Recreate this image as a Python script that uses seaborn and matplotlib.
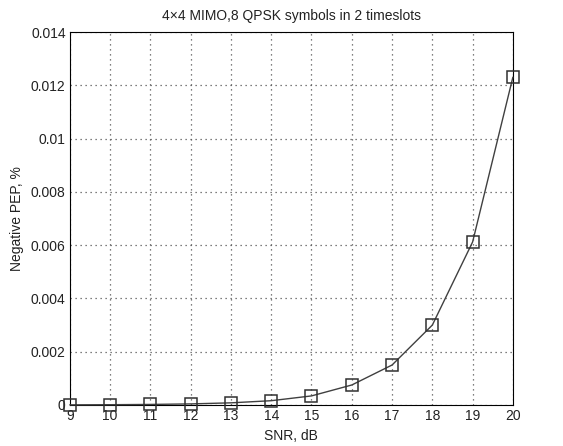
import seaborn as sns
import pandas as pd
import matplotlib
matplotlib.use('Agg')
import matplotlib.pyplot as plt
import numpy as np

snr = [9, 10, 11, 12, 13, 14, 15, 16, 17, 18, 19, 20]
pep = [0.000005, 0.00001, 0.00002, 0.00004, 0.00008, 0.00016,
       0.00034, 0.00075, 0.0015, 0.0030, 0.00612, 0.01231]

df = pd.DataFrame({'snr': snr, 'pep': pep})

sns.set_style('white')
plt.rcParams['font.family'] = ['Liberation Sans', 'DejaVu Sans']

f = plt.figure(figsize=(5.63, 4.46), dpi=100)
ax = f.add_axes([0.124, 0.092, 0.787, 0.836])

sns.lineplot(data=df, x='snr', y='pep', ax=ax, color='#404040', linewidth=1,
             marker='s', markersize=8, markerfacecolor='none',
             markeredgecolor='#303030', markeredgewidth=1.1, clip_on=False, zorder=5)

ax.set_xlim(9, 20)
ax.set_ylim(0, 0.014)
ax.set_xticks(snr)
ax.set_yticks(np.arange(0, 0.0141, 0.002))
ax.set_yticklabels(['0', '0.002', '0.004', '0.006', '0.008', '0.01', '0.012', '0.014'])
ax.grid(True, color='#555555', linestyle=(0, (1, 3)), linewidth=0.9)
ax.tick_params(direction='in', length=4, labelsize=10, colors='#222222', pad=3)
for s in ax.spines.values():
    s.set_color('black')
    s.set_linewidth(0.8)

ax.set_xlabel('SNR, dB', fontsize=10, labelpad=4, color='#222222')
ax.set_ylabel('Negative PEP, %', fontsize=10, labelpad=5, color='#222222')
ax.set_title('4×4 MIMO,8 QPSK symbols in 2 timeslots', fontsize=10, pad=9, color='#222222')

plt.savefig('out.png', dpi=100)
